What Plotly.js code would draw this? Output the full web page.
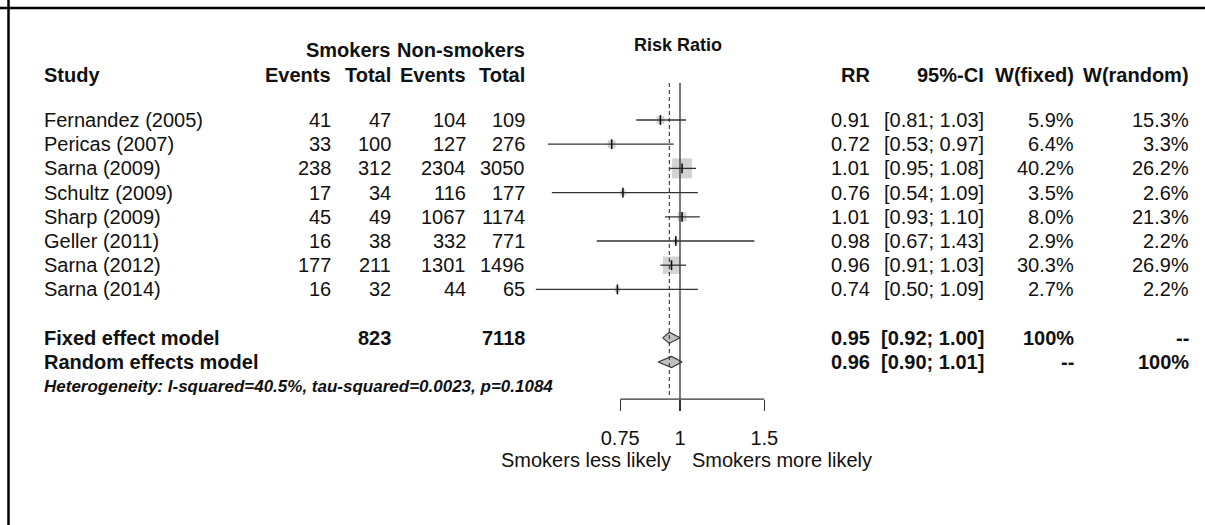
<!DOCTYPE html>
<html>
<head>
<meta charset="utf-8">
<script src="https://cdn.plot.ly/plotly-3.0.1.min.js"></script>
<style>html,body{margin:0;padding:0;background:#fff;overflow:hidden;}#chart{width:1205px;height:525px;display:block;}</style>
</head>
<body>
<div id="chart"></div>
<script>
// ---------------- data ----------------
const studies = ['Fernandez (2005)','Pericas (2007)','Sarna (2009)','Schultz (2009)','Sharp (2009)','Geller (2011)','Sarna (2012)','Sarna (2014)'];
const eventsSmk = [41, 33, 238, 17, 45, 16, 177, 16];
const totalSmk  = [47, 100, 312, 34, 49, 38, 211, 32];
const eventsNon = [104, 127, 2304, 116, 1067, 332, 1301, 44];
const totalNon  = [109, 276, 3050, 177, 1174, 771, 1496, 65];
const rr     = [0.91, 0.72, 1.01, 0.76, 1.01, 0.98, 0.96, 0.74];
const ciLow  = [0.81, 0.53, 0.95, 0.54, 0.93, 0.67, 0.91, 0.50];
const ciHigh = [1.03, 0.97, 1.08, 1.09, 1.10, 1.43, 1.03, 1.09];
const wFixed  = [5.9, 6.4, 40.2, 3.5, 8.0, 2.9, 30.3, 2.7];
const wRandom = [15.3, 3.3, 26.2, 2.6, 21.3, 2.2, 26.9, 2.2];

const modelNames = ['Fixed effect model', 'Random effects model'];
const modelRR   = [0.95, 0.96];
const modelLow  = [0.92, 0.90];
const modelHigh = [1.00, 1.01];
const modelWFixed  = ['100%', '--'];
const modelWRandom = ['--', '100%'];
const pooledTotals = [823, 7118];
const hetText = 'Heterogeneity: I-squared=40.5%, tau-squared=0.0023, p=0.1084';

const tickVals = [0.75, 1, 1.5];
const tickText = ['0.75', '1', '1.5'];
const groupLabels = ['Smokers', 'Non-smokers'];
const colHeaders = ['Study', 'Events', 'Total', 'Events', 'Total', 'RR', '95%-CI', 'W(fixed)', 'W(random)'];
const axisLabels = ['Smokers less likely', 'Smokers more likely'];
const plotTitle = 'Risk Ratio';

// ---------------- layout helpers ----------------
const W = 1205, H = 525;
const FONT = 'Liberation Sans, Arial, sans-serif';
const TXT = '#111111';
const studyRows = studies.map((_, i) => i);
const modelRows = [9, 10];
const hetRow = 11;
const headRow = -1.86, groupRow = -2.9, titleRow = -3.12;
const refTop = -1.53, axisRow = 11.53;
const bottomRow = 14.05;

const px = v => v / W;
const colX = {study: 42, ev1: 333, tot1: 393, ev2: 468, tot2: 527, rr: 872, ci: 986, wf: 1076, wr: 1191};

const annotations = [];
function txt(x, row, text, anchor, opt) {
  opt = opt || {};
  annotations.push({
    xref: 'paper', yref: 'y', x: px(x), y: row, text: text,
    xanchor: anchor, yanchor: 'middle', showarrow: false,
    font: {family: opt.family || FONT, size: opt.size || 20, color: TXT, weight: opt.bold ? 'bold' : 'normal', style: opt.italic ? 'italic' : 'normal'}
  });
}
const fmt2 = v => v.toFixed(2);
const ciStr = (l, h) => '[' + fmt2(l) + '; ' + fmt2(h) + ']';

// headers
txt(678, titleRow, plotTitle, 'center', {bold: true, size: 18});
txt(colX.tot1, groupRow, groupLabels[0], 'right', {bold: true});
txt(colX.tot2, groupRow, groupLabels[1], 'right', {bold: true});
const headKeys = ['study', 'ev1', 'tot1', 'ev2', 'tot2', 'rr', 'ci', 'wf', 'wr'];
colHeaders.forEach((h, i) => txt(colX[headKeys[i]], headRow, h, i === 0 ? 'left' : 'right', {bold: true}));

// study rows
studies.forEach((s, i) => {
  const r = studyRows[i];
  txt(colX.study, r, s, 'left');
  txt(colX.ev1, r, String(eventsSmk[i]), 'right');
  txt(colX.tot1, r, String(totalSmk[i]), 'right');
  txt(colX.ev2, r, String(eventsNon[i]), 'right');
  txt(colX.tot2, r, String(totalNon[i]), 'right');
  txt(colX.rr, r, fmt2(rr[i]), 'right');
  txt(colX.ci, r, ciStr(ciLow[i], ciHigh[i]), 'right');
  txt(colX.wf, r, wFixed[i].toFixed(1) + '%', 'right');
  txt(colX.wr, r, wRandom[i].toFixed(1) + '%', 'right');
});

// model rows
modelNames.forEach((m, j) => {
  const r = modelRows[j];
  txt(colX.study, r, m, 'left', {bold: true});
  if (j === 0) {
    txt(colX.tot1, r, String(pooledTotals[0]), 'right', {bold: true});
    txt(colX.tot2, r, String(pooledTotals[1]), 'right', {bold: true});
  }
  txt(colX.rr, r, fmt2(modelRR[j]), 'right', {bold: true});
  txt(colX.ci, r, ciStr(modelLow[j], modelHigh[j]), 'right', {bold: true});
  txt(colX.wf, r, modelWFixed[j], 'right', {bold: true});
  txt(colX.wr, r, modelWRandom[j], 'right', {bold: true});
});
txt(colX.study, hetRow, hetText, 'left', {bold: true, italic: true, size: 17});

// bottom labels
txt(673, bottomRow, axisLabels[0], 'right');
txt(690, bottomRow, axisLabels[1], 'left');

// ---------------- traces ----------------
const ciX = [], ciY = [];
studies.forEach((_, i) => { ciX.push(ciLow[i], ciHigh[i], null); ciY.push(studyRows[i], studyRows[i], null); });

const sizeK = 3.15;
const traces = [
  {type: 'scatter', mode: 'markers', x: rr, y: studyRows,
   marker: {symbol: 'square', color: '#C0C0C0', size: wFixed.map(w => sizeK * Math.sqrt(w)), line: {width: 0}}},
  {type: 'scatter', mode: 'lines', x: ciX, y: ciY, line: {color: '#333333', width: 1.3}},
  {type: 'scatter', mode: 'markers', x: rr, y: studyRows,
   marker: {symbol: 'line-ns', size: 7, line: {color: '#111111', width: 1.6}}}
];
const dh = 0.23;
modelNames.forEach((m, j) => {
  const r = modelRows[j];
  traces.push({type: 'scatter', mode: 'lines', fill: 'toself', fillcolor: '#C0C0C0',
    x: [modelLow[j], modelRR[j], modelHigh[j], modelRR[j], modelLow[j]],
    y: [r, r - dh, r, r + dh, r],
    line: {color: '#333333', width: 1.1}});
});

const shapes = [
  // frame
  {type: 'line', xref: 'paper', yref: 'paper', x0: 0, x1: 1, y0: 1 - 8 / H, y1: 1 - 8 / H, line: {color: '#000', width: 2.5}},
  {type: 'line', xref: 'paper', yref: 'paper', x0: px(8.5), x1: px(8.5), y0: 0, y1: 1, line: {color: '#000', width: 2.5}},
  // null line and fixed-effect line
  {type: 'line', xref: 'x', yref: 'y', x0: 1, x1: 1, y0: refTop, y1: axisRow, line: {color: '#333', width: 1.3}},
  {type: 'line', xref: 'x', yref: 'y', x0: modelRR[0], x1: modelRR[0], y0: refTop, y1: axisRow - 0.05, line: {color: '#333', width: 1.1, dash: '4px,3px'}},
  // axis bracket
  {type: 'line', xref: 'x', yref: 'y', x0: tickVals[0], x1: tickVals[tickVals.length - 1], y0: axisRow, y1: axisRow, line: {color: '#333', width: 1.3}}
];

const rowPx0 = 120, rowStep = 24.2;
const yTop = (0 - rowPx0) / rowStep, yBot = (H - rowPx0) / rowStep;
const pxPerDec = 478.9, nullPx = 680;
const xr = [(0 - nullPx) / pxPerDec, (W - nullPx) / pxPerDec];

const layout = {
  width: W, height: H, margin: {l: 0, r: 0, t: 0, b: 0},
  paper_bgcolor: '#fff', plot_bgcolor: 'rgba(0,0,0,0)',
  showlegend: false, hovermode: false,
  xaxis: {type: 'log', range: xr, domain: [0, 1], anchor: 'free', position: 1 - 399 / H,
    showgrid: false, zeroline: false, showline: false,
    tickmode: 'array', tickvals: tickVals, ticktext: tickText,
    ticks: 'outside', ticklen: 11, tickwidth: 1.3, tickcolor: '#333',
    ticklabelstandoff: 10,
    tickfont: {family: FONT, size: 20, color: TXT}, fixedrange: true},
  yaxis: {range: [yBot, yTop], domain: [0, 1], visible: false, fixedrange: true},
  shapes: shapes,
  annotations: annotations
};

Plotly.newPlot('chart', traces, layout, {displayModeBar: false, staticPlot: true});
</script>
</body>
</html>
